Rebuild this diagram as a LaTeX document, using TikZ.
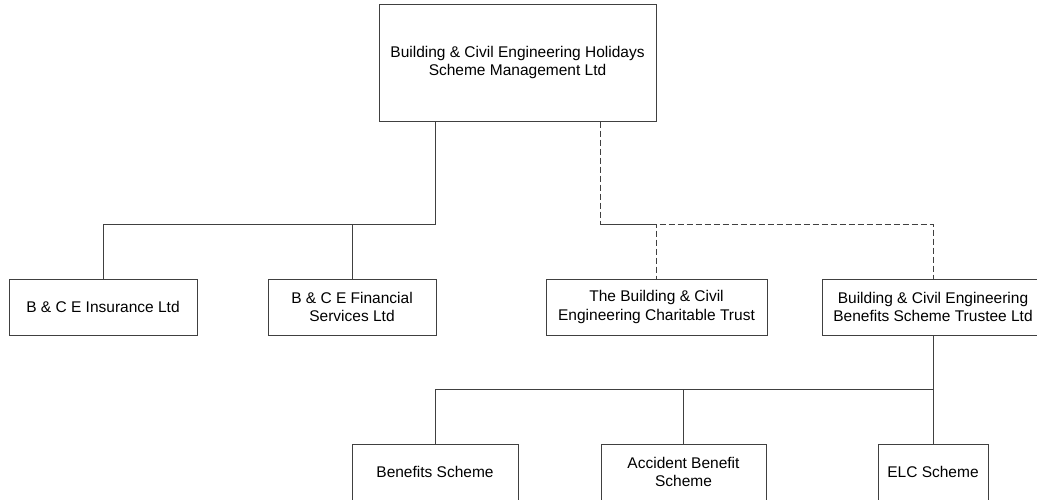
\documentclass[tikz,border=0pt]{standalone}
\usepackage{fontspec}
\setmainfont{Liberation Sans}
\usepackage{tikz}
\usetikzlibrary{positioning}

\begin{document}
\begin{tikzpicture}[
  x=1pt, y=-1pt,
  unit/.style={rectangle, draw=black!75, line width=1pt, fill=white,
               text centered, inner sep=0pt, minimum height=56pt},
  link/.style={draw=black!75, line width=1pt},
  dotlink/.style={link, dash pattern=on 6pt off 3pt},
  every node/.style={align=center, font=\fontsize{15.5}{18.5}\selectfont}
]
\clip (0,0) rectangle (1037,499);

% Parent company
\node[unit, minimum width=277pt, minimum height=117pt] (holidays) at (517.5, 62.5)
      {Building \& Civil Engineering Holidays\\Scheme Management Ltd};

% Second row
\node[unit, minimum width=188pt] (insur)   at (103, 307)   {B \& C E Insurance Ltd};
\node[unit, minimum width=168pt] (financ)  at (352, 307)   {B \& C E Financial\\Services Ltd};
\node[unit, minimum width=221pt] (charity) at (656.5, 307) {The Building \& Civil\\Engineering Charitable Trust};
\node[unit, minimum width=222pt] (trustee) at (933, 307)   {Building \& Civil Engineering\\Benefits Scheme Trustee Ltd};

% Schemes
\node[unit, minimum width=166pt] (benef)    at (435, 472)   {Benefits Scheme};
\node[unit, minimum width=165pt] (accident) at (683.5, 472) {Accident Benefit\\Scheme};
\node[unit, minimum width=110pt] (elc)      at (933, 472)   {ELC Scheme};

% Junction points
\coordinate (solidbus)  at (435, 224);
\coordinate (dashbus)   at (600, 224);
\coordinate (schemebus) at (933, 389);

% Subsidiaries
\draw[link] (holidays.south -| solidbus) -- (solidbus) -| (insur.north);
\draw[link] (solidbus) -| (financ.north);

% Associated bodies
\draw[dotlink] (holidays.south -| dashbus) -- (dashbus) -| (trustee.north);
\draw[dotlink] (dashbus) -| (charity.north);

% Trustee schemes
\draw[link] (trustee.south) -- (schemebus) -| (benef.north);
\draw[link] (schemebus) -| (accident.north);
\draw[link] (schemebus) -- (elc.north);

\end{tikzpicture}
\end{document}
